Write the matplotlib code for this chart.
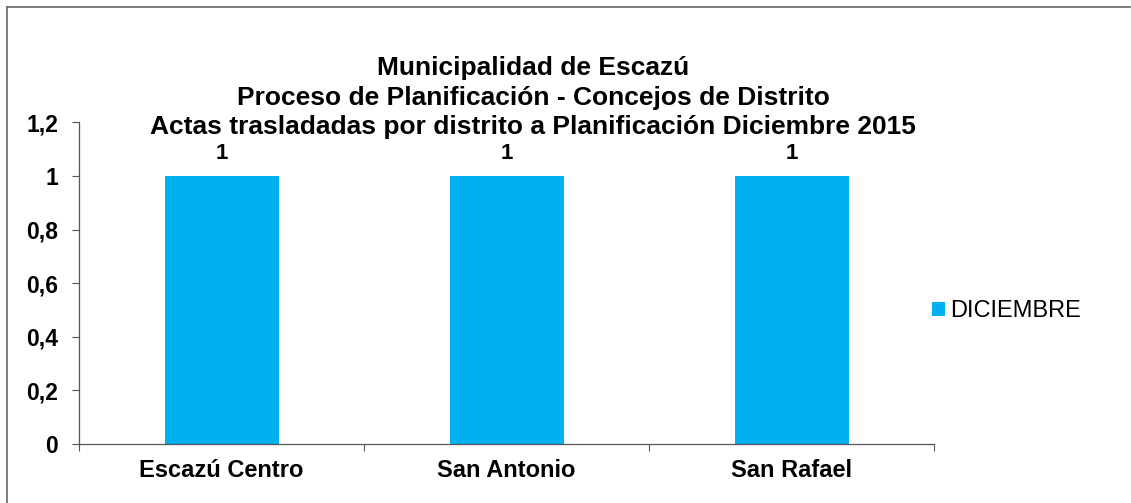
import matplotlib.pyplot as plt
from matplotlib.lines import Line2D
import numpy as np

distritos = ['Escazú Centro', 'San Antonio', 'San Rafael']
actas = [1, 1, 1]
serie = 'DICIEMBRE'
yticks = [0, 0.2, 0.4, 0.6, 0.8, 1.0, 1.2]
ylabels = ['0', '0,2', '0,4', '0,6', '0,8', '1', '1,2']
titulos = ['Municipalidad de Escazú',
           'Proceso de Planificación - Concejos de Distrito',
           'Actas trasladadas por distrito a Planificación Diciembre 2015']

plt.rcParams['font.family'] = ['Liberation Sans', 'DejaVu Sans']

W, H = 1131, 503
fig = plt.figure(figsize=(W / 100, H / 100), dpi=100)
ax = fig.add_axes([79 / W, (H - 444) / H, (934 - 79) / W, (444 - 122.4) / H])

x = np.arange(len(distritos))
barras = ax.bar(x, actas, width=0.4, color='#00B0F0', label=serie)

for b, v in zip(barras, actas):
    ax.text(b.get_x() + b.get_width() / 2, v + 0.063, str(v), ha='center', va='baseline',
            fontsize=16, fontweight='bold')

ax.set_xlim(-0.5, len(distritos) - 0.5)
ax.set_ylim(0, 1.2)
ax.set_yticks(yticks)
ax.set_yticklabels(ylabels, fontsize=16.5, fontweight='bold')
ax.set_xticks(x)
ax.set_xticklabels(distritos, fontsize=17, fontweight='bold')
ax.tick_params(axis='x', length=0, pad=11)
ax.tick_params(axis='y', length=5, width=0.8, color='#555555', pad=10)
# ticks between categories on x
ax.set_xticks(np.arange(len(distritos) + 1) - 0.5, minor=True)
ax.tick_params(axis='x', which='minor', length=5, width=0.8, color='#555555', direction='out')
ax.spines['top'].set_visible(False)
ax.spines['right'].set_visible(False)
for s in ['left', 'bottom']:
    ax.spines[s].set_color('#555555')
    ax.spines[s].set_linewidth(0.9)

for t, yb in zip(titulos, [75, 104.5, 134]):
    fig.text(533 / W, (H - yb) / H, t, ha='center', va='baseline', fontsize=19,
             fontweight='bold')

leg = fig.legend(handles=[barras], labels=[serie], loc='center left',
                 bbox_to_anchor=(920 / W, (H - 311) / H), frameon=False, borderpad=0,
                 fontsize=17, handlelength=0.55, handleheight=0.55, handletextpad=0.22)

# outer frame (top and left only visible)
fig.add_artist(Line2D([7 / W, 1130 / W], [(H - 6.5) / H] * 2, color='#666666', lw=1.2))
fig.add_artist(Line2D([7 / W] * 2, [0, (H - 6.5) / H], color='#666666', lw=1.2))

fig.savefig('out.png', dpi=100)
